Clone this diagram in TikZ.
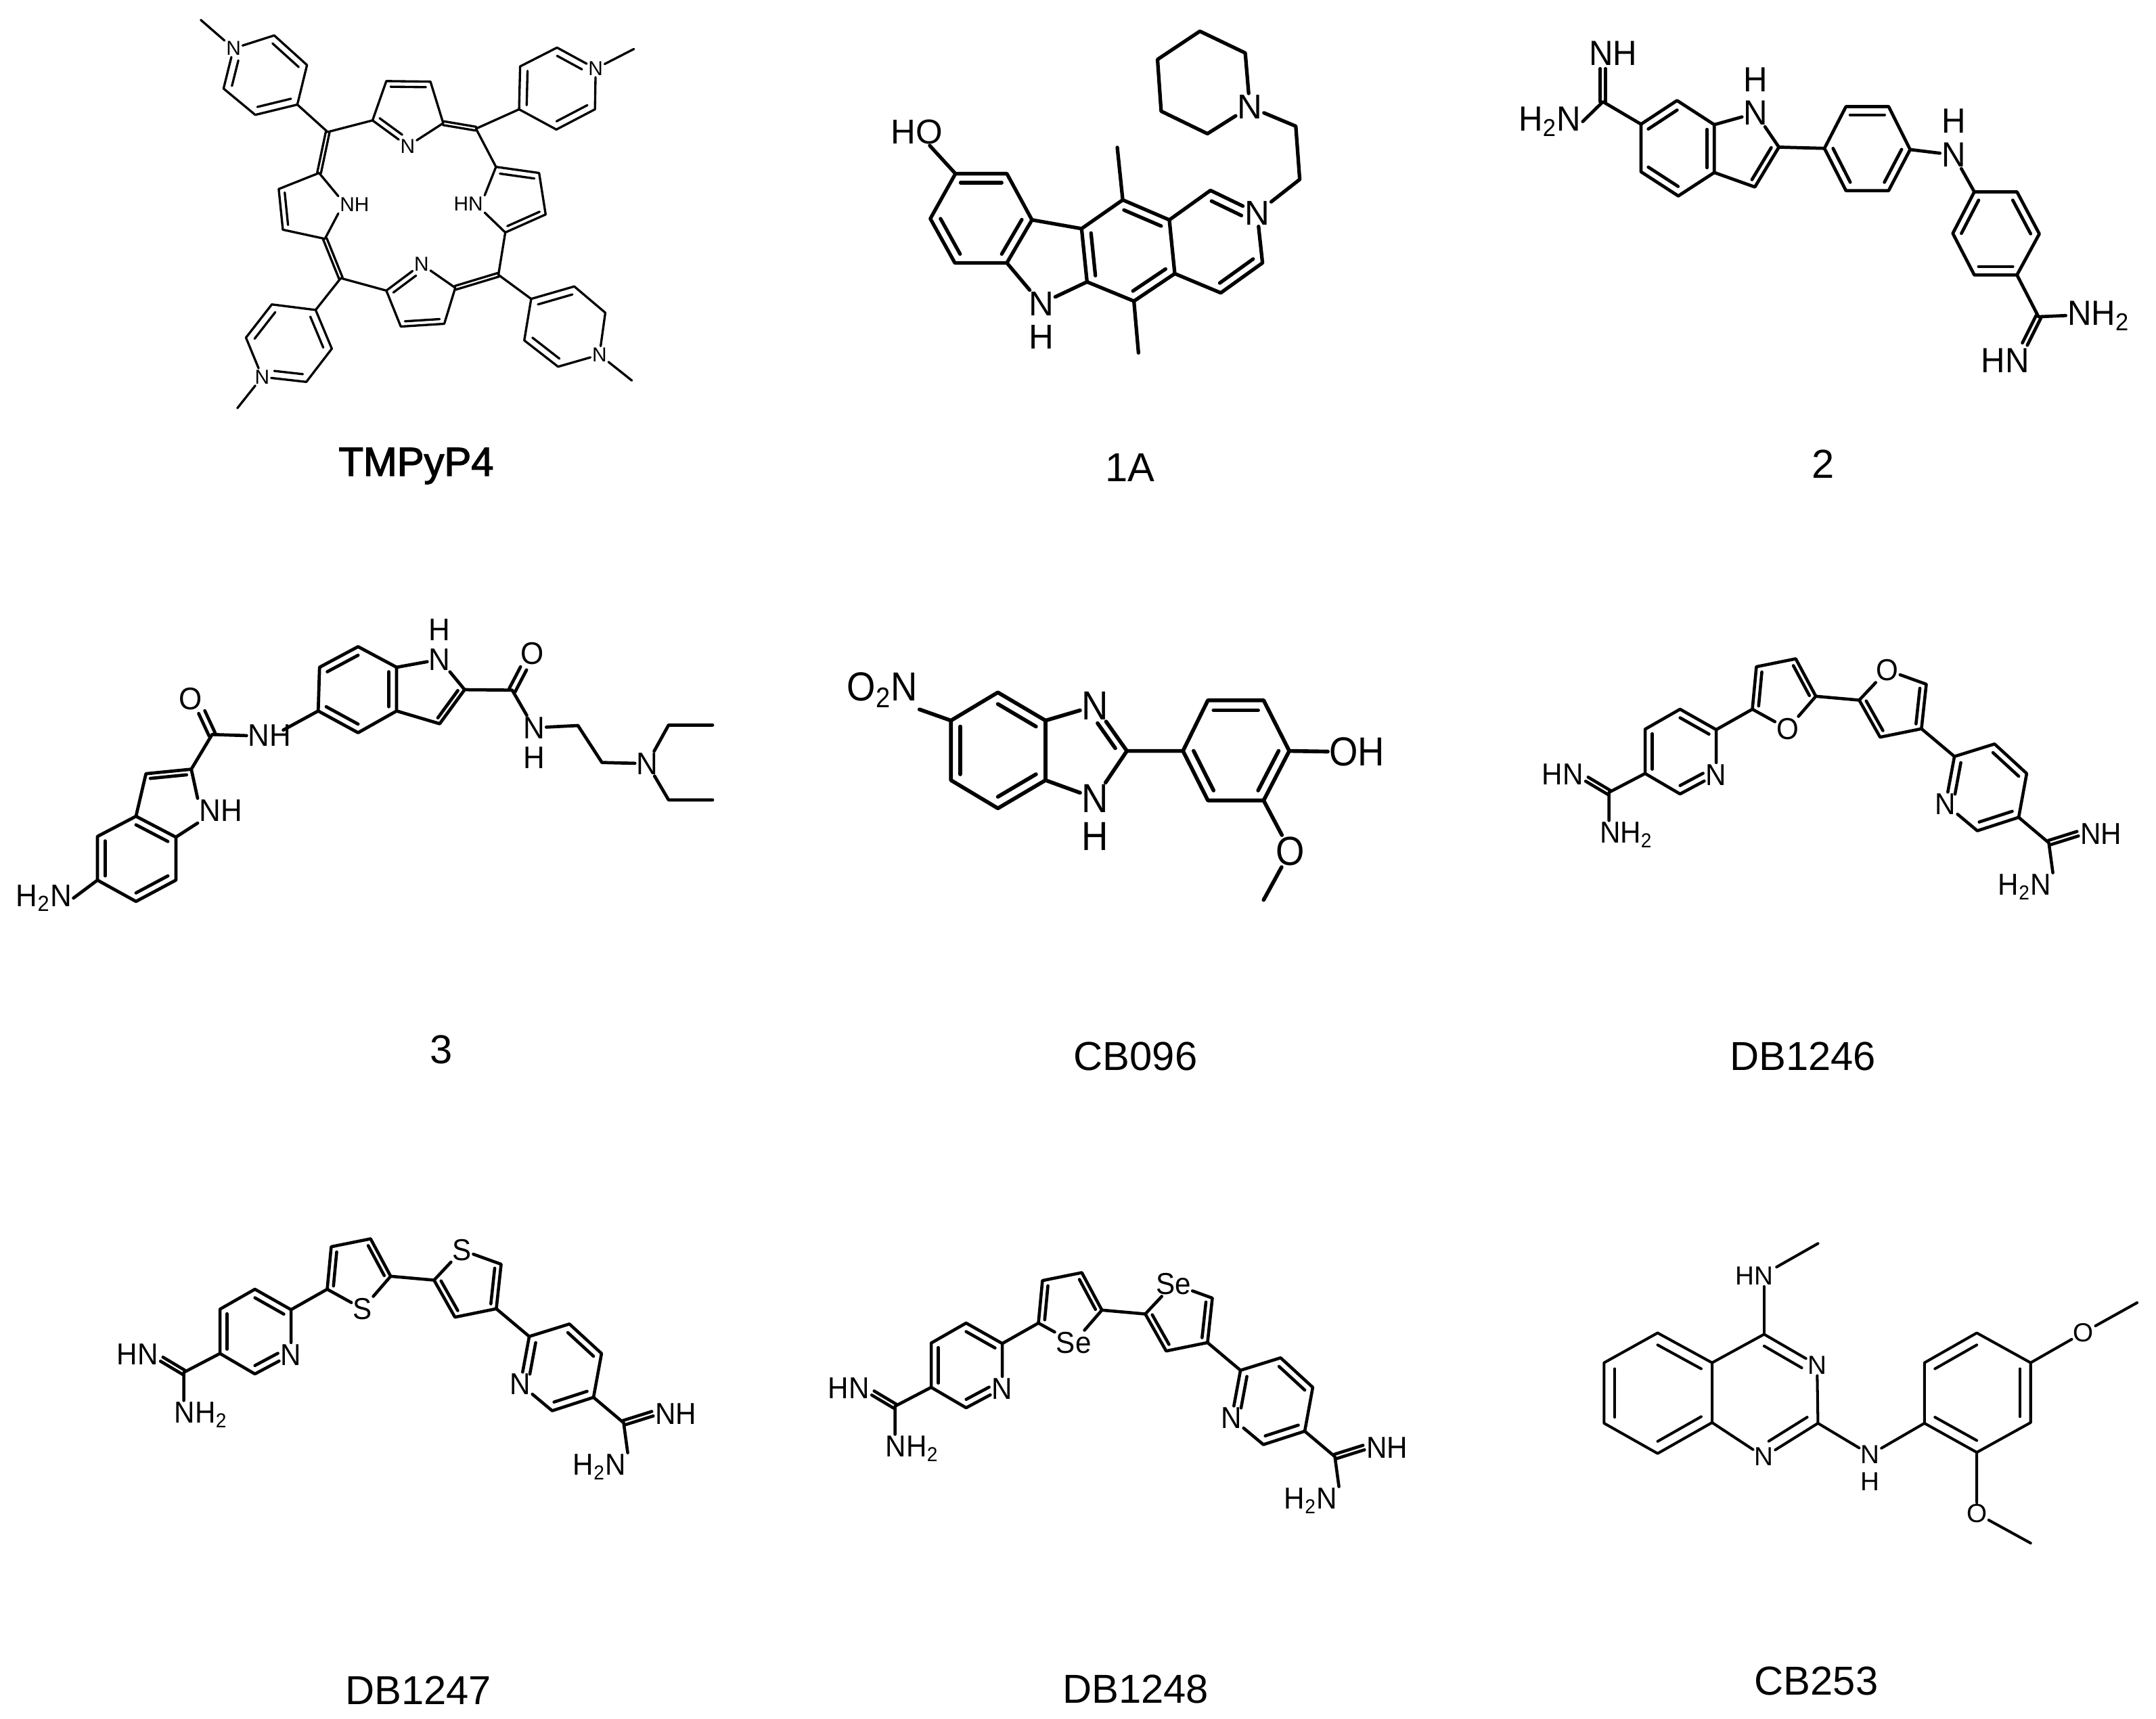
\documentclass[tikz,border=0pt]{standalone}
\usepackage{fontspec}
\usepackage{graphicx}
\setmainfont{Liberation Sans}
\newfontfamily\capbold[FakeBold=2.2]{Liberation Sans}
\usetikzlibrary{calc}
\def\ty{1}
\newcommand\Cp[2]{\coordinate (#1) at (#2);}
\newcommand\Lab[3]{\node[atom] (#1) at (#2) {\scalebox{1}[\ty]{#3}};}
\newcommand\Dbin[4][]{\draw[bond,#1] ($(#2)!.2!(#4)$) -- ($(#3)!.2!(#4)$);}
\newcommand\Dbex[2]{\draw[bond] ($(#1)!\ofs!90:(#2)$) -- ($(#2)!\ofs!-90:(#1)$);\draw[bond] ($(#1)!\ofs!-90:(#2)$) -- ($(#2)!\ofs!90:(#1)$);}
\newcommand\Sub{\textsubscript{2}}
\tikzset{
  bond/.style={line width=\bw,line join=round,line cap=round,black},
  atom/.style={font=\af,inner sep=0.5pt,text=black},
  capt/.style={font=\fontsize{17}{20}\selectfont,anchor=base,inner sep=0pt,text=black},
}
\def\ofs{0.03cm}\def\bw{1pt}\def\af{\fontsize{12}{14}\selectfont}
% bis-amidine family: #1 prefix, #2 shift, #3 hetero label
\newcommand\Thmol[3]{%
\begin{scope}[shift={#2},x=0.005931cm,y=-0.003356cm]
\def\bw{1.3pt}\def\af{\fontsize{12}{14}\selectfont}\def\ofs{0.035cm}\def\ty{1.06}
\Lab{#1hn}{100,548}{HN}\Lab{#1nh2}{258,815}{NH\Sub}\Lab{#1n1}{482,550}{N}
\Lab{#1x1}{660,348}{#3}\Lab{#1x2}{908,90}{#3}\Lab{#1n2}{1053,680}{N}
\Lab{#1nh}{1440,810}{NH}\Lab{#1h2n}{1250,1045}{H\Sub N}
\Cp{#1a1}{305,545}\Cp{#1a2}{305,350}\Cp{#1a3}{392,262}\Cp{#1a4}{482,352}\Cp{#1a6}{392,635}\Cp{#1ac}{392,450}
\Cp{#1am}{215,628}\Cp{#1ame}{160,570}
\draw[bond] (#1a1)--(#1a2)--(#1a3)--(#1a4)--(#1n1)--(#1a6)--(#1a1)--(#1am)--(#1am |- #1nh2.north);
\Dbin{#1a2}{#1a1}{#1ac}\Dbin{#1a3}{#1a4}{#1ac}\Dbin[shorten >=.1cm]{#1a6}{#1n1}{#1ac}
\Dbex{#1am}{#1ame}
\Cp{#1b1}{572,262}\Cp{#1b2}{582,75}\Cp{#1b3}{680,40}\Cp{#1b4}{730,205}\Cp{#1bc}{650,190}
\draw[bond] (#1a4)--(#1b1)--(#1b2)--(#1b3)--(#1b4)--(#1x1)--(#1b1);
\Dbin{#1b1}{#1b2}{#1bc}\Dbin{#1b3}{#1b4}{#1bc}
\Cp{#1c1}{838,222}\Cp{#1c2}{890,385}\Cp{#1c3}{993,348}\Cp{#1c4}{1005,152}\Cp{#1cc}{925,240}
\draw[bond] (#1b4)--(#1c1)--(#1c2)--(#1c3)--(#1c4)--(#1x2)--(#1c1);
\Dbin{#1c1}{#1c2}{#1cc}\Dbin{#1c3}{#1c4}{#1cc}
\Cp{#1d1}{1075,470}\Cp{#1d2}{1175,415}\Cp{#1d3}{1255,545}\Cp{#1d4}{1235,738}\Cp{#1d5}{1132,797}\Cp{#1dc}{1155,605}
\draw[bond] (#1c3)--(#1d1)--(#1d2)--(#1d3)--(#1d4)--(#1d5)--(#1n2)--(#1d1);
\Dbin{#1d2}{#1d3}{#1dc}\Dbin{#1d4}{#1d5}{#1dc}\Dbin[shorten <=.1cm]{#1n2}{#1d1}{#1dc}
\Cp{#1e}{1310,850}\Cp{#1ee}{1382,810}
\draw[bond] (#1d4)--(#1e)--(#1h2n.north east);
\Dbex{#1e}{#1ee}
\end{scope}}
\begin{document}
\begin{tikzpicture}
\fill[white] (0,0) rectangle (31.86,-25.40);
\useasboundingbox (0,0) rectangle (31.86,-25.40);
% ---------- TMPyP4
\begin{scope}[shift={(2.60cm,0cm)},x=0.005102cm,y=-0.004082cm]
\def\bw{.95pt}\def\af{\fontsize{8.5}{10}\selectfont}\def\ofs{0.028cm}
\Lab{aN1}{672,528}{N}\Lab{aN2}{712,955}{N}\Lab{aNH}{518,740}{NH}\Lab{aHN}{848,737}{HN}
\Lab{atlN}{167,175}{N}\Lab{atrN}{1217,248}{N}\Lab{ablN}{250,1362}{N}\Lab{abrN}{1228,1282}{N}
\Cp{at1}{570,435}\Cp{at2}{610,293}\Cp{at3}{738,295}\Cp{at4}{775,445}\Cp{atc}{672,395}
\Cp{mTL}{440,477}\Cp{mTR}{870,465}\Cp{mBL}{478,1005}\Cp{mBR}{935,993}
\draw[bond] (mTL)--(at1)--(at2)--(at3)--(at4)--(aN1)--(at1);
\Dbin{at2}{at3}{atc}\Dbin[shorten >=.1cm]{at1}{aN1}{atc}\Dbex{at4}{mTR}
\Cp{al1}{415,625}\Cp{al2}{298,683}\Cp{al3}{310,830}\Cp{al4}{432,863}\Cp{alc}{385,745}
\draw[bond] (aNH.north west)--(al1)--(al2)--(al3)--(al4)--(aNH.south west);
\Dbin{al2}{al3}{alc}\Dbex{mTL}{al1}\Dbex{al4}{mBL}
\Cp{ab1}{610,1050}\Cp{ab2}{652,1180}\Cp{ab3}{778,1170}\Cp{ab4}{810,1040}\Cp{abc}{712,1085}
\draw[bond] (mBL)--(ab1)--(ab2)--(ab3)--(ab4)--(aN2)--(ab1);
\Dbin{ab2}{ab3}{abc}\Dbin[shorten >=.1cm]{ab1}{aN2}{abc}\Dbex{ab4}{mBR}
\Cp{ar1}{955,840}\Cp{ar2}{1072,775}\Cp{ar3}{1053,625}\Cp{ar4}{928,603}\Cp{arc}{985,725}
\draw[bond] (mBR)--(ar1)--(ar2)--(ar3)--(ar4)--(mTR);
\draw[bond] (ar1)--(aHN.south east);\draw[bond] (ar4)--(aHN.north east);
\Dbin{ar1}{ar2}{arc}\Dbin{ar3}{ar4}{arc}
% top-left ring
\Cp{tl1}{352,378}\Cp{tl2}{380,235}\Cp{tl3}{285,128}\Cp{tl5}{138,320}\Cp{tl6}{230,415}\Cp{tlc}{260,272}\Cp{tlm}{72,72}
\draw[bond] (mTL)--(tl1)--(tl2)--(tl3)--(atlN)--(tl5)--(tl6)--(tl1);\draw[bond] (atlN)--(tlm);
\Dbin{tl3}{tl2}{tlc}\Dbin[shorten <=.1cm]{atlN}{tl5}{tlc}\Dbin{tl6}{tl1}{tlc}
% top-right ring
\Cp{tr1}{995,395}\Cp{tr2}{998,240}\Cp{tr3}{1105,172}\Cp{tr5}{1215,395}\Cp{tr6}{1103,468}\Cp{trc}{1105,320}\Cp{trm}{1328,177}
\draw[bond] (mTR)--(tr1)--(tr2)--(tr3)--(atrN)--(tr5)--(tr6)--(tr1);\draw[bond] (atrN)--(trm);
\Dbin{tr1}{tr2}{trc}\Dbin[shorten >=.1cm]{tr3}{atrN}{trc}\Dbin{tr5}{tr6}{trc}
% bottom-left ring
\Cp{bl1}{405,1120}\Cp{bl2}{278,1100}\Cp{bl3}{203,1220}\Cp{bl5}{378,1380}\Cp{bl6}{452,1260}\Cp{blc}{328,1240}\Cp{blm}{178,1475}
\draw[bond] (mBL)--(bl1)--(bl2)--(bl3)--(ablN)--(bl5)--(bl6)--(bl1);\draw[bond] (ablN)--(blm);
\Dbin{bl2}{bl3}{blc}\Dbin[shorten <=.1cm]{ablN}{bl5}{blc}\Dbin{bl6}{bl1}{blc}
% bottom-right ring
\Cp{br1}{1030,1080}\Cp{br2}{1155,1035}\Cp{br3}{1245,1130}\Cp{br5}{1108,1325}\Cp{br6}{1010,1230}\Cp{brc}{1128,1180}\Cp{brm}{1322,1375}
\draw[bond] (mBR)--(br1)--(br2)--(br3)--(abrN)--(br5)--(br6)--(br1);\draw[bond] (abrN)--(brm);
\Dbin{br1}{br2}{brc}\Dbin{br5}{br6}{brc}
\end{scope}
% ---------- 1A
\begin{scope}[shift={(12.80cm,0cm)},x=0.004464cm,y=-0.0037cm]
\def\bw{1.5pt}\def\af{\fontsize{14.5}{16}\selectfont}
\Lab{bHO}{168,527}{HO}\Lab{bN1}{578,1215}{N}\Lab{bH1}{578,1350}{H}\Lab{bN2}{1292,852}{N}\Lab{bN3}{1268,428}{N}
\Cp{b1}{295,695}\Cp{b2}{465,695}\Cp{b3}{548,880}\Cp{b4}{465,1052}\Cp{b5}{293,1052}\Cp{b6}{212,875}\Cp{bac}{380,875}
\draw[bond] (bHO)--(b1)--(b2)--(b3)--(b4)--(b5)--(b6)--(b1);
\Dbin{b1}{b2}{bac}\Dbin{b6}{b5}{bac}\Dbin{b3}{b4}{bac}
\Cp{c1}{712,915}\Cp{c2}{848,800}\Cp{c3}{1002,880}\Cp{c4}{1020,1095}\Cp{c5}{885,1205}\Cp{c6}{730,1128}\Cp{ccc}{868,1003}
\Cp{me1}{830,590}\Cp{me2}{900,1412}
\draw[bond] (b3)--(c1)--(c2)--(c3)--(c4)--(c5)--(c6)--(c1);
\draw[bond] (b4)--(bN1)--(c6);\draw[bond] (c2)--(me1);\draw[bond] (c5)--(me2);
\Dbin{c1}{c6}{ccc}\Dbin{c2}{c3}{ccc}\Dbin{c4}{c5}{ccc}
\Cp{d2}{1138,762}\Cp{d4}{1310,1052}\Cp{d5}{1172,1172}\Cp{dcc}{1155,975}
\draw[bond] (c3)--(d2)--(bN2)--(d4)--(d5)--(c4);
\Dbin[shorten >=.12cm]{d2}{bN2}{dcc}\Dbin{d4}{d5}{dcc}
\Cp{e1}{1433,718}\Cp{e2}{1420,505}\Cp{p1}{1253,212}\Cp{p2}{1103,125}\Cp{p3}{963,238}\Cp{p4}{975,445}\Cp{p5}{1128,535}
\draw[bond] (bN2)--(e1)--(e2)--(bN3)--(p1)--(p2)--(p3)--(p4)--(p5)--(bN3);
\end{scope}
% ---------- 2
\begin{scope}[shift={(22.20cm,-0.20cm)},x=0.006122cm,y=-0.003571cm]
\def\bw{1.35pt}\def\af{\fontsize{14}{16}\selectfont}\def\ofs{0.04cm}\def\ty{1.05}
\Lab{cNH}{268,165}{NH}\Lab{cH2N}{115,447}{H\Sub N}\Lab{cH1}{612,275}{H}\Lab{cN1}{612,412}{N}
\Lab{cH2}{1090,445}{H}\Lab{cN2}{1090,585}{N}\Lab{cNH2}{1440,1250}{NH\Sub}\Lab{cHN}{1215,1435}{HN}
\Cp{c0}{243,365}\Cp{c0e}{243,228}\Cp{r1}{335,458}\Cp{r2}{422,360}\Cp{r3}{512,460}\Cp{r4}{512,658}\Cp{r5}{425,755}\Cp{r6}{335,655}\Cp{rc}{423,558}
\draw[bond] (cH2N.east)--(c0)--(r1)--(r2)--(r3)--(r4)--(r5)--(r6)--(r1);
\Dbex{c0}{c0e}
\Dbin{r1}{r2}{rc}\Dbin{r3}{r4}{rc}\Dbin{r5}{r6}{rc}
\Cp{f1}{668,553}\Cp{f2}{610,718}\Cp{fc}{575,565}
\draw[bond] (r3)--(cN1)--(f1)--(f2)--(r4);\Dbin{f1}{f2}{fc}
\Cp{g1}{778,558}\Cp{g2}{830,385}\Cp{g3}{933,385}\Cp{g4}{985,563}\Cp{g5}{933,733}\Cp{g6}{830,733}\Cp{gc}{882,560}
\draw[bond] (f1)--(g1)--(g2)--(g3)--(g4)--(g5)--(g6)--(g1);
\Dbin{g2}{g3}{gc}\Dbin{g4}{g5}{gc}\Dbin{g6}{g1}{gc}
\Cp{h1}{1140,738}\Cp{h2}{1243,738}\Cp{h3}{1297,912}\Cp{h4}{1243,1082}\Cp{h5}{1140,1082}\Cp{h6}{1088,910}\Cp{hc}{1192,910}
\draw[bond] (g4)--(cN2)--(h1)--(h2)--(h3)--(h4)--(h5)--(h6)--(h1);
\Dbin{h1}{h6}{hc}\Dbin{h2}{h3}{hc}\Dbin{h4}{h5}{hc}
\Cp{i0}{1295,1255}\Cp{i0e}{1262,1368}
\draw[bond] (h4)--(i0)--(cNH2.west);\Dbex{i0}{i0e}
\end{scope}
% ---------- 3
\begin{scope}[shift={(0cm,-8.80cm)},x=0.006697cm,y=-0.003317cm]
\def\bw{1.35pt}\def\af{\fontsize{12.5}{14}\selectfont}\def\ofs{0.05cm}\def\ty{1.05}
\Lab{dH2N}{97,1350}{H\Sub N}\Lab{dNH1}{487,960}{NH}\Lab{dO1}{420,460}{O}\Lab{dNH2}{595,625}{NH}
\Lab{dN1}{970,285}{N}\Lab{dH1}{970,152}{H}\Lab{dO2}{1175,260}{O}\Lab{dN2}{1178,590}{N}\Lab{dH2}{1178,725}{H}\Lab{dN3}{1428,750}{N}
\Cp{j1}{215,1270}\Cp{j2}{215,1075}\Cp{j3}{300,985}\Cp{j4}{388,1078}\Cp{j5}{388,1270}\Cp{j6}{300,1365}\Cp{jc}{300,1175}
\draw[bond] (dH2N.east)--(j1)--(j2)--(j3)--(j4)--(j5)--(j6)--(j1);
\Dbin{j1}{j2}{jc}\Dbin{j3}{j4}{jc}\Dbin{j5}{j6}{jc}
\Cp{k1}{322,795}\Cp{k2}{422,775}\Cp{kc}{370,900}\Cp{k3}{468,620}\Cp{k3e}{445,520}
\draw[bond] (j3)--(k1)--(k2)--(dNH1.north west);\draw[bond] (j4)--(dNH1.south west);
\Dbin{k1}{k2}{kc}
\draw[bond] (k2)--(k3)--(dNH2.west);\Dbex{k3}{k3e}
\Cp{l1}{702,515}\Cp{l2}{705,320}\Cp{l3}{790,228}\Cp{l4}{875,320}\Cp{l5}{875,515}\Cp{l6}{790,612}\Cp{lc}{790,420}\Cp{lnh}{625,600}
\draw[bond] (lnh)--(l1)--(l2)--(l3)--(l4)--(l5)--(l6)--(l1);
\Dbin{l1}{l6}{lc}\Dbin{l2}{l3}{lc}\Dbin{l4}{l5}{lc}
\Cp{n1}{1025,420}\Cp{n2}{970,572}\Cp{nc}{950,440}\Cp{n3}{1130,422}\Cp{n3e}{1155,325}
\draw[bond] (l4)--(dN1)--(n1)--(n2)--(l5);\Dbin{n1}{n2}{nc}
\draw[bond] (n1)--(n3)--(dN2);\Dbex{n3}{n3e}
\Cp{o1}{1275,580}\Cp{o2}{1328,745}\Cp{o3}{1475,578}\Cp{o4}{1572,578}\Cp{o5}{1475,912}\Cp{o6}{1572,912}
\draw[bond] (dN2)--(o1)--(o2)--(dN3)--(o3)--(o4);\draw[bond] (dN3)--(o5)--(o6);
\end{scope}
% ---------- CB096
\begin{scope}[shift={(12.20cm,-9.20cm)},x=0.00542cm,y=-0.003333cm]
\def\bw{1.6pt}\def\af{\fontsize{15.5}{18}\selectfont}\def\ty{1.1}
\Lab{eNO2}{155,300}{O\Sub N}\Lab{eN1}{735,370}{N}\Lab{eN2}{735,780}{N}\Lab{eH}{735,950}{H}\Lab{eOH}{1450,575}{OH}\Lab{eO}{1268,1015}{O}
\Cp{q1}{342,435}\Cp{q2}{470,310}\Cp{q3}{600,435}\Cp{q4}{600,700}\Cp{q5}{470,825}\Cp{q6}{342,700}\Cp{qc}{470,568}
\draw[bond] (eNO2.south east)--(q1)--(q2)--(q3)--(q4)--(q5)--(q6)--(q1);
\Dbin{q2}{q3}{qc}\Dbin{q1}{q6}{qc}\Dbin{q4}{q5}{qc}
\Cp{s1}{822,570}\Cp{sc}{690,570}
\draw[bond] (q3)--(eN1)--(s1)--(eN2)--(q4);
\Dbin[shorten <=.15cm,shorten >=.05cm]{eN1}{s1}{sc}
\Cp{u1}{975,570}\Cp{u2}{1043,345}\Cp{u3}{1195,345}\Cp{u4}{1265,570}\Cp{u5}{1195,790}\Cp{u6}{1043,790}\Cp{uc}{1120,568}\Cp{um}{1195,1232}
\draw[bond] (s1)--(u1)--(u2)--(u3)--(u4)--(u5)--(u6)--(u1);
\Dbin{u2}{u3}{uc}\Dbin{u4}{u5}{uc}\Dbin{u1}{u6}{uc}
\draw[bond] (u4)--(eOH);\draw[bond] (u5)--(eO)--(um);
\end{scope}
% ---------- bis-amidines
\Thmol{v}{(22.50cm,-9.60cm)}{O}
\Thmol{w}{(1.44cm,-18.17cm)}{S}
\Thmol{x}{(11.95cm,-18.67cm)}{Se}
% ---------- CB253
\begin{scope}[shift={(23.40cm,-18.00cm)},x=0.004464cm,y=-0.003317cm]
\def\bw{1.15pt}\def\af{\fontsize{11}{13}\selectfont}
\Lab{yHN}{565,257}{HN}\Lab{yN1}{772,655}{N}\Lab{yN2}{597,1065}{N}\Lab{yN3}{948,1055}{N}\Lab{yH}{948,1175}{H}\Lab{yO1}{1300,1318}{O}\Lab{yO2}{1653,510}{O}
\Cp{t1}{245,512}\Cp{t2}{425,645}\Cp{t3}{425,912}\Cp{t4}{245,1050}\Cp{t5}{68,915}\Cp{t6}{68,645}\Cp{tc}{245,780}
\draw[bond] (t1)--(t2)--(t3)--(t4)--(t5)--(t6)--(t1);
\Dbin{t1}{t2}{tc}\Dbin{t3}{t4}{tc}\Dbin{t5}{t6}{tc}
\Cp{w1}{597,518}\Cp{w2}{775,915}\Cp{wc}{597,780}\Cp{yme}{775,113}\Cp{yhs}{638,218}
\draw[bond] (t2)--(w1)--(yN1)--(w2)--(yN2)--(t3);
\Dbin[shorten >=.08cm]{w1}{yN1}{wc}\Dbin[shorten >=.08cm]{w2}{yN2}{wc}
\draw[bond] (w1)--(w1 |- yHN.south);\draw[bond] (yhs)--(yme);
\Cp{z1}{1127,915}\Cp{z2}{1127,645}\Cp{z3}{1300,512}\Cp{z4}{1478,645}\Cp{z5}{1478,912}\Cp{z6}{1300,1045}\Cp{zc}{1300,780}
\draw[bond] (w2)--(yN3)--(z1)--(z2)--(z3)--(z4)--(z5)--(z6)--(z1);
\Dbin{z2}{z3}{zc}\Dbin{z4}{z5}{zc}\Dbin{z6}{z1}{zc}
\Cp{zm1}{1478,1450}\Cp{zm2}{1830,377}
\draw[bond] (z6)--(yO1)--(zm1);\draw[bond] (z4)--(yO2)--(zm2);
\end{scope}
% ---------- captions
\node[capt,font=\fontsize{17}{20}\selectfont\capbold] (capA) at (6.15,-7.03) {TMPyP4};
\node[capt] (capB) at (16.70,-7.11) {1A};
\node[capt] (capC) at (26.94,-7.06) {2};
\node[capt] (capD) at (6.52,-15.71) {3};
\node[capt] (capE) at (16.78,-15.81) {CB096};
\node[capt] (capF) at (26.64,-15.81) {DB1246};
\node[capt] (capG) at (6.18,-25.18) {DB1247};
\node[capt] (capH) at (16.78,-25.16) {DB1248};
\node[capt] (capI) at (26.84,-25.04) {CB253};
\end{tikzpicture}
\end{document}
